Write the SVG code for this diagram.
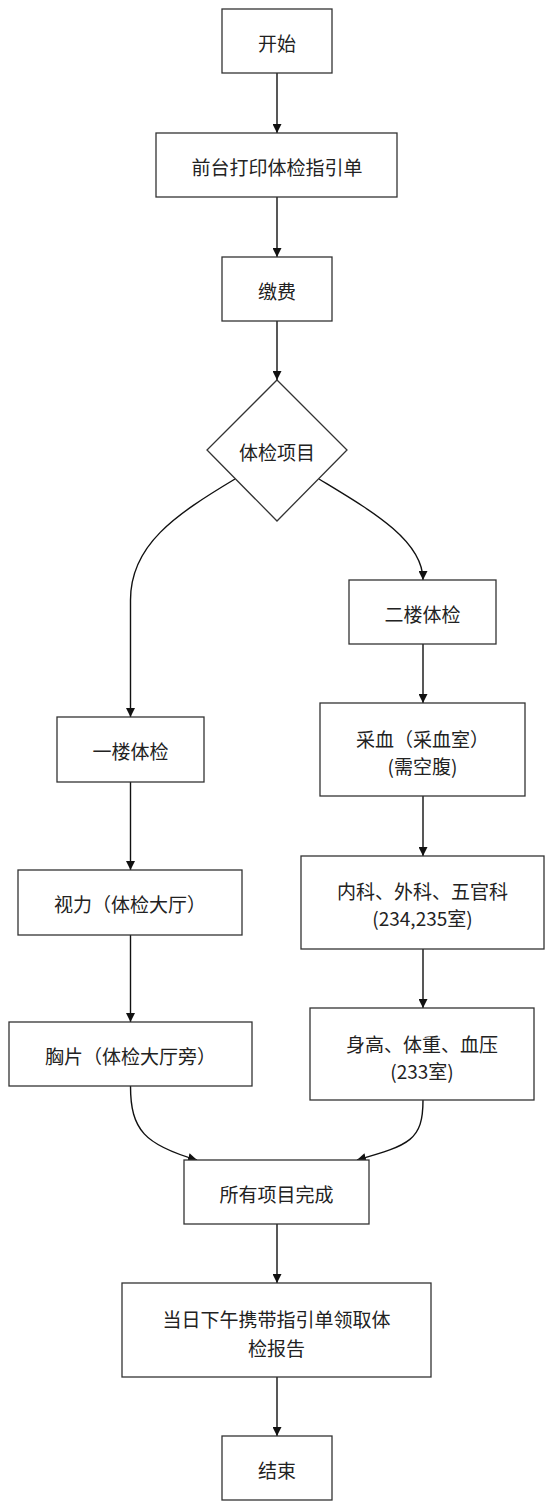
<svg xmlns="http://www.w3.org/2000/svg" width="554" height="1511" viewBox="0 0 554 1511">
<style>
.box{fill:#fff;stroke:#333;stroke-width:1.3}
.t{font-family:"Noto Sans CJK SC","Noto Sans",sans-serif;font-size:19px;fill:#222;text-anchor:middle;dominant-baseline:central}
.c{fill:none;stroke:#111;stroke-width:1.4}
</style>
<defs>
<marker id="ah" viewBox="0 0 10 10" refX="10" refY="5" markerWidth="9" markerHeight="9" markerUnits="userSpaceOnUse" orient="auto">
<path d="M0,0 L10,5 L0,10 z" fill="#111"/>
</marker>
</defs>
<rect width="554" height="1511" fill="#fff"/>
<g id="connectors">
<path class="c" d="M277,73 L277,133" marker-end="url(#ah)"/>
<path class="c" d="M277,197 L277,257" marker-end="url(#ah)"/>
<path class="c" d="M277,321 L277,380" marker-end="url(#ah)"/>
<path class="c" d="M235,479 C175,515 130.5,545 130.5,600 L130.5,717" marker-end="url(#ah)"/>
<path class="c" d="M319,479 C370,510 423,540 423,580" marker-end="url(#ah)"/>
<path class="c" d="M423,644 L423,703" marker-end="url(#ah)"/>
<path class="c" d="M130.5,782 L130.5,870" marker-end="url(#ah)"/>
<path class="c" d="M423,796 L423,856" marker-end="url(#ah)"/>
<path class="c" d="M130.5,935 L130.5,1022" marker-end="url(#ah)"/>
<path class="c" d="M423,949 L423,1008" marker-end="url(#ah)"/>
<path class="c" d="M130.5,1086 C130.5,1130 145,1145 197,1160" marker-end="url(#ah)"/>
<path class="c" d="M423,1100 C423,1140 410,1145 357,1160" marker-end="url(#ah)"/>
<path class="c" d="M277,1224 L277,1283" marker-end="url(#ah)"/>
<path class="c" d="M277,1377 L277,1436" marker-end="url(#ah)"/>
</g>
<g id="start"><rect class="box" x="222" y="9" width="110" height="64"/><text class="t" x="277" y="42">开始</text></g>
<g id="print"><rect class="box" x="156" y="133" width="241" height="64"/><text class="t" x="277" y="166">前台打印体检指引单</text></g>
<g id="pay"><rect class="box" x="222" y="257" width="110" height="64"/><text class="t" x="277" y="290">缴费</text></g>
<g id="decision"><polygon class="box" points="277,380 347,450 277,521 207,450"/><text class="t" x="277" y="451">体检项目</text></g>
<g id="floor2"><rect class="box" x="349" y="580" width="147" height="64"/><text class="t" x="422.5" y="613">二楼体检</text></g>
<g id="floor1"><rect class="box" x="57" y="717" width="147" height="65"/><text class="t" x="130.5" y="750">一楼体检</text></g>
<g id="blood"><rect class="box" x="320" y="703" width="205" height="93"/><text class="t" x="422.5" y="738">采血（采血室）</text><text class="t" x="422.5" y="765">(需空腹)</text></g>
<g id="vision"><rect class="box" x="18" y="870" width="224" height="65"/><text class="t" x="130" y="903">视力（体检大厅）</text></g>
<g id="internal"><rect class="box" x="301" y="856" width="243" height="93"/><text class="t" x="422.5" y="890">内科、外科、五官科</text><text class="t" x="422.5" y="917">(234,235室)</text></g>
<g id="xray"><rect class="box" x="9" y="1022" width="243" height="64"/><text class="t" x="130.5" y="1055">胸片（体检大厅旁）</text></g>
<g id="height"><rect class="box" x="310" y="1008" width="224" height="92"/><text class="t" x="422" y="1043">身高、体重、血压</text><text class="t" x="422" y="1070">(233室)</text></g>
<g id="done"><rect class="box" x="184" y="1160" width="185" height="64"/><text class="t" x="276.5" y="1193">所有项目完成</text></g>
<g id="report"><rect class="box" x="122" y="1283" width="309" height="94"/><text class="t" x="276.5" y="1318">当日下午携带指引单领取体</text><text class="t" x="276.5" y="1347">检报告</text></g>
<g id="end"><rect class="box" x="222" y="1436" width="110" height="64"/><text class="t" x="277" y="1469">结束</text></g>
</svg>
